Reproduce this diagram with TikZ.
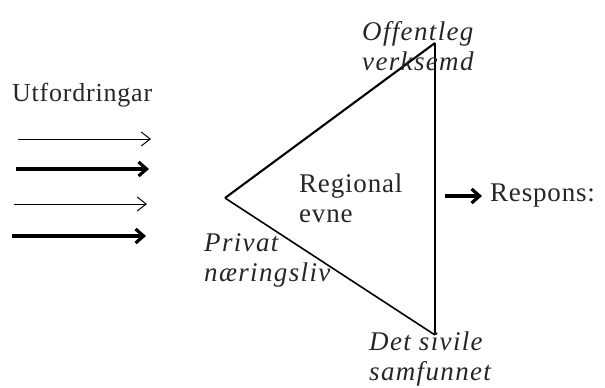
\documentclass[tikz,border=0pt]{standalone}
\usepackage{fontspec}
\setmainfont{Liberation Serif}
\usetikzlibrary{arrows.meta}
\begin{document}
\begin{tikzpicture}[x=1pt,y=-1pt,
  lbl/.style={font=\fontsize{27}{30}\selectfont\addfontfeature{LetterSpace=3}, inner sep=0pt, text=black!85},
  ilbl/.style={font=\fontsize{27}{30}\selectfont\itshape\addfontfeature{LetterSpace=5}, inner sep=0pt, align=left, text=black!85},
  thinarrow/.style={line width=1pt, -{Straight Barb[length=9pt,width=14pt]}},
  thickarrow/.style={line width=3.2pt, -{Straight Barb[length=8pt,width=14pt]}},
  edge/.style={line width=1.6pt}]
\useasboundingbox (0,0) rectangle (605,388);
% triangle vertices
\coordinate (L) at (225,198);
\coordinate (T) at (435,43);
\coordinate (B) at (435,335);
\draw[line width=2.1pt] (L) -- (T);
\draw[edge] (L) -- (B);
\draw[line width=1.3pt] (T) -- (B);
% labels
\node[lbl, font=\fontsize{26}{30}\selectfont\addfontfeature{LetterSpace=3}, anchor=west] (utf) at (12,95) {Utfordringar};
\node[lbl, align=left, anchor=west] (reg) at (299,198) {Regional\\evne};
\node[ilbl, anchor=west] (off) at (362,46) {Offentleg\\verksemd};
\node[ilbl, anchor=west] (priv) at (204,260) {Privat\\næringsliv};
\node[ilbl, anchor=west] (det) at (369,359) {Det sivile\\samfunnet};
\node[lbl, anchor=west] (resp) at (490,196) {Respons:};
% incoming arrows
\coordinate (a1s) at (18,139); \coordinate (a1e) at (151,139);
\coordinate (a2s) at (16,169); \coordinate (a2e) at (149,169);
\coordinate (a3s) at (14,204); \coordinate (a3e) at (147,204);
\coordinate (a4s) at (12,236); \coordinate (a4e) at (146,236);
\draw[thinarrow] (a1s) -- (a1e);
\draw[thickarrow] (a2s) -- (a2e);
\draw[thinarrow] (a3s) -- (a3e);
\draw[thickarrow] (a4s) -- (a4e);
% response arrow
\coordinate (rs) at (445,196);
\draw[thickarrow, shorten >=8pt] (rs) -- (resp.west);
\end{tikzpicture}
\end{document}
